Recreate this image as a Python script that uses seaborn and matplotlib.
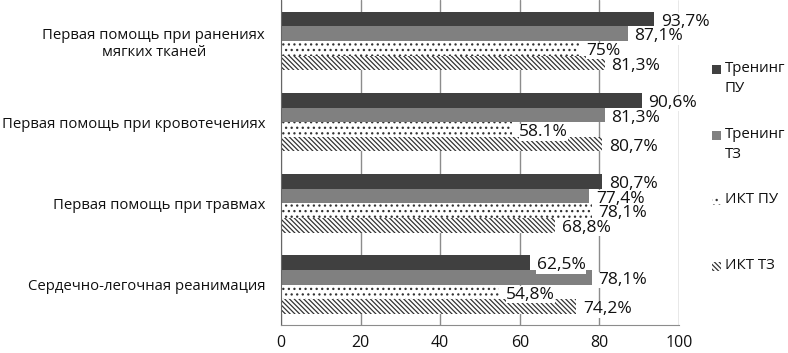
import pandas as pd
import matplotlib.pyplot as plt
from matplotlib.patches import Rectangle
import seaborn as sns

# Data
categories = ['Первая помощь при ранениях\nмягких тканей',
              'Первая помощь при кровотечениях',
              'Первая помощь при травмах',
              'Сердечно-легочная реанимация']
series = ['Тренинг ПУ', 'Тренинг ТЗ', 'ИКТ ПУ', 'ИКТ ТЗ']
legend_labels = ['Тренинг\nПУ', 'Тренинг\nТЗ', 'ИКТ ПУ', 'ИКТ ТЗ']
training_pu = [93.7, 90.6, 80.7, 62.5]
training_tz = [87.1, 81.3, 77.4, 78.1]
ikt_pu = [75.0, 58.1, 78.1, 54.8]
ikt_tz = [81.3, 80.7, 68.8, 74.2]
value_labels = [
    ['93,7%', '90,6%', '80,7%', '62,5%'],
    ['87,1%', '81,3%', '77,4%', '78,1%'],
    ['75%', '58.1%', '78,1%', '54,8%'],
    ['81,3%', '80,7%', '68,8%', '74,2%'],
]

df = pd.DataFrame({
    'category': categories * 4,
    'series': [s for s in series for _ in categories],
    'value': training_pu + training_tz + ikt_pu + ikt_tz,
})

sns.set_style('white')
plt.rcParams['font.family'] = ['Open Sans', 'DejaVu Sans']
plt.rcParams['hatch.linewidth'] = 0.9

fig = plt.figure(figsize=(7.88, 3.53), dpi=100)
ax = fig.add_axes([0.3566, 0.079, 0.505, 0.92])

palette = ['#404040', '#808080', '#ffffff', '#ffffff']
sns.barplot(data=df, y='category', x='value', hue='series', order=categories,
            hue_order=series, palette=palette, width=0.72, saturation=1,
            ax=ax, legend=False)

# fills / patterns per series
hatches = [None, None, '...', '\\\\\\\\\\\\\\']
for cont, h, lab in zip(ax.containers, hatches, value_labels):
    for p in cont:
        p.set_linewidth(0)
        if h:
            p.set_hatch(h)
            p.set_edgecolor('#333333')
    anns = ax.bar_label(cont, labels=lab, padding=5, fontsize=12.5, color='#111111',
                        bbox=dict(facecolor='white', edgecolor='none', pad=0.3))
    for a in anns:
        a.xyann = (a.xyann[0], -2)

ax.set_xlim(0, 100)
ax.set_ylim(3.5, -0.5)
ax.set_xticks([0, 20, 40, 60, 80, 100])
ax.tick_params(axis='x', labelsize=11.5, length=4, color='#8c8c8c', pad=3,
               labelcolor='#111111')
ax.tick_params(axis='y', labelsize=10.7, length=0, pad=11.5, labelcolor='#111111')
for t in ax.get_yticklabels():
    t.set_multialignment('center')
ax.set_xlabel('')
ax.set_ylabel('')
ax.grid(axis='x', color='#8c8c8c', linewidth=1)
ax.set_axisbelow(True)
for s in ['top', 'right']:
    ax.spines[s].set_visible(False)
ax.spines['left'].set_color('#666666')
ax.spines['bottom'].set_color('#8c8c8c')
# minor ticks at category boundaries
ax.set_yticks([0.5, 1.5, 2.5, 3.5], minor=True)
ax.tick_params(axis='y', which='minor', length=4, color='#666666')

# legend, Excel style: equal spacing, handle on first text line
W, H = 788, 353
legend_y = [70, 136, 201, 267]
for cont, lab, y in zip(ax.containers, legend_labels, legend_y):
    src = cont.patches[0]
    fig.patches.append(Rectangle((712 / W, 1 - (y + 4) / H), 9 / W, 9 / H,
                                 transform=fig.transFigure,
                                 facecolor=src.get_facecolor(),
                                 edgecolor=src.get_edgecolor() if src.get_hatch() else 'none',
                                 hatch=src.get_hatch(), linewidth=0))
    fig.text(725 / W, 1 - (y - 9) / H, lab, fontsize=10.8, va='top', ha='left',
             color='#111111', linespacing=1.5)

fig.savefig('out.png', dpi=100)
